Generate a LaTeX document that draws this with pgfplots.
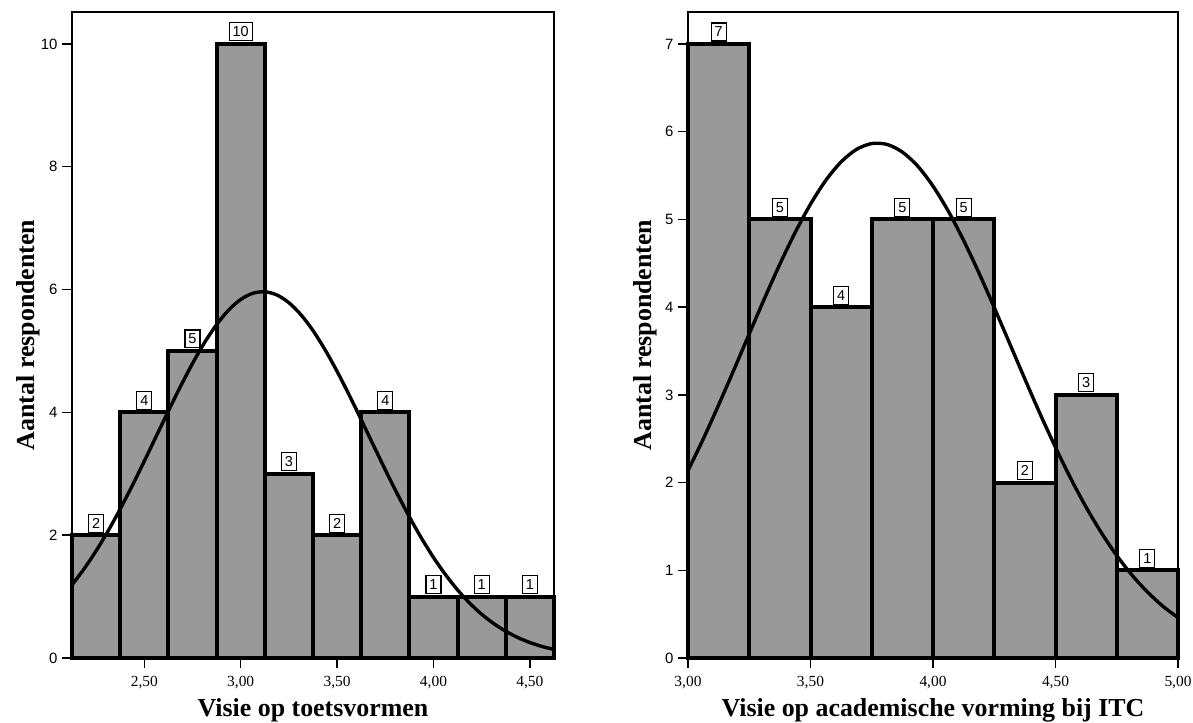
\documentclass[border=0pt]{standalone}
\usepackage{fontspec}
\setmainfont{Liberation Serif}
\setsansfont{Liberation Sans}
\usepackage{pgfplots}
\pgfplotsset{compat=1.18}
\definecolor{bargray}{RGB}{153,153,153}
\pgfplotstableread{
x y
2.25 2
2.50 4
2.75 5
3.00 10
3.25 3
3.50 2
3.75 4
4.00 1
4.25 1
4.50 1
}\lefttab
\pgfplotstableread{
x y
3.125 7
3.375 5
3.625 4
3.875 5
4.125 5
4.375 2
4.625 3
4.875 1
}\righttab
\pgfplotsset{
  histo/.style={
    scale only axis,
    anchor=south west,
    height=646bp,
    ymin=0,
    clip=false,
    axis line style={line width=1.9pt, black},
    tick align=outside,
    tick pos=left,
    major tick length=10bp,
    tick style={line width=1.4pt, black},
    /pgf/number format/assume math mode=true,
    yticklabel style={font=\sffamily\fontsize{15}{17}\selectfont, xshift=-1bp},
    xticklabel style={font=\fontsize{15.5}{17}\selectfont, yshift=-4.5bp},
    ylabel={Aantal respondenten},
    xlabel style={font=\bfseries\fontsize{26}{30}\selectfont, at={(axis description cs:0.5,-0.0909)}, anchor=base},
    ylabel style={font=\bfseries\fontsize{26}{30}\selectfont, anchor=center},
  },
  bars/.style={
    ybar, bar width=0.25, fill=bargray, draw=black, line width=4pt,
  },
  labels/.style={
    ybar, bar width=0.25, draw=none, fill=none,
    nodes near coords,
    nodes near coords style={font=\sffamily\fontsize{14.5}{16}\selectfont, draw=black, fill=white,
      line width=1.1pt, inner xsep=3.5bp, inner ysep=4bp, anchor=south, yshift=2.5bp, text depth=0pt},
  },
  curve/.style={black, line width=3.4pt, smooth, no marks},
}
\begin{document}
\begin{tikzpicture}
\path[use as bounding box] (0bp,0bp) rectangle (1193bp,723bp);
% ---------- left panel ----------
\begin{axis}[histo,
  at={(72bp,65bp)}, width=482bp,
  xmin=2.125, xmax=4.625, ymax=10.52,
  xtick={2.5,3,3.5,4,4.5},
  xticklabels={{2,50},{3,00},{3,50},{4,00},{4,50}},
  ytick={0,2,4,6,8,10},
  xlabel={Visie op toetsvormen},
  ylabel style={at={(axis description cs:-0.0913,0.5)}},
]
\addplot[bars] table[x=x,y=y] {\lefttab};
\addplot[curve] coordinates {
(2.125,1.191) (2.1875,1.451) (2.25,1.745) (2.3125,2.070) (2.375,2.427) (2.4375,2.807)
(2.5,3.206) (2.5625,3.615) (2.625,4.023) (2.6875,4.421) (2.75,4.796) (2.8125,5.136)
(2.875,5.429) (2.9375,5.667) (3.0,5.839) (3.0625,5.939) (3.125,5.964) (3.1875,5.912)
(3.25,5.786) (3.3125,5.590) (3.375,5.332) (3.4375,5.020) (3.5,4.667) (3.5625,4.283)
(3.625,3.880) (3.6875,3.470) (3.75,3.064) (3.8125,2.671) (3.875,2.298) (3.9375,1.952)
(4.0,1.637) (4.0625,1.356) (4.125,1.108) (4.1875,0.894) (4.25,0.712) (4.3125,0.560)
(4.375,0.435) (4.4375,0.333) (4.5,0.252) (4.5625,0.188) (4.625,0.139)};
\addplot[labels] table[x=x,y=y] {\lefttab};
\end{axis}
% ---------- right panel ----------
\begin{axis}[histo,
  at={(688bp,65bp)}, width=490bp,
  xmin=3, xmax=5, ymax=7.365,
  xtick={3,3.5,4,4.5,5},
  xticklabels={{3,00},{3,50},{4,00},{4,50},{5,00}},
  ytick={0,1,2,3,4,5,6,7},
  xlabel={Visie op academische vorming bij ITC},
  ylabel style={at={(axis description cs:-0.0878,0.5)}},
]
\addplot[bars] table[x=x,y=y] {\righttab};
\addplot[curve] coordinates {
(3.0,2.137) (3.0625,2.499) (3.125,2.885) (3.1875,3.287) (3.25,3.696) (3.3125,4.101)
(3.375,4.491) (3.4375,4.852) (3.5,5.174) (3.5625,5.446) (3.625,5.656) (3.6875,5.798)
(3.75,5.865) (3.8125,5.855) (3.875,5.768) (3.9375,5.608) (4.0,5.380) (4.0625,5.094)
(4.125,4.760) (4.1875,4.390) (4.25,3.995) (4.3125,3.588) (4.375,3.180) (4.4375,2.781)
(4.5,2.401) (4.5625,2.045) (4.625,1.719) (4.6875,1.427) (4.75,1.168) (4.8125,0.944)
(4.875,0.753) (4.9375,0.592) (5.0,0.460)};
\addplot[labels] table[x=x,y=y] {\righttab};
\end{axis}
\end{tikzpicture}
\end{document}
